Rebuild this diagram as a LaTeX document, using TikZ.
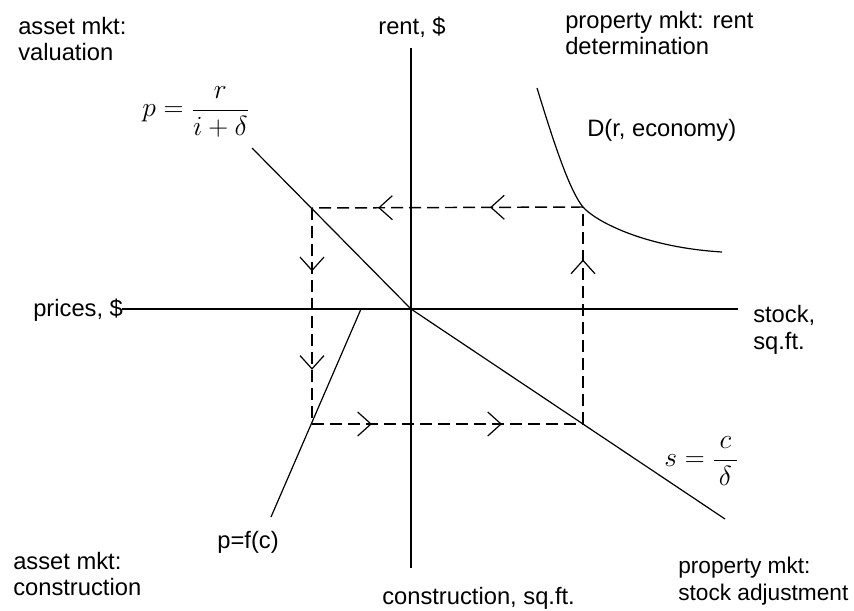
\documentclass[tikz,border=0pt]{standalone}
\usepackage{fontspec}
\setmainfont{Liberation Sans}
\usetikzlibrary{arrows.meta,decorations.markings}
\tikzset{
  axisline/.style={line width=1.5pt},
  curveline/.style={line width=0.9pt},
  dashline/.style={line width=1.1pt, dash pattern=on 9pt off 4.5pt},
  arrowat/.style={postaction={decorate,decoration={markings,
      mark=at position #1 with {\arrow{Straight Barb[length=10pt,width=18pt,line width=0.9pt]}}}}},
  lbl/.style={font=\fontsize{17.8}{20}\selectfont, inner sep=0pt, align=left},
  mathlbl/.style={font=\fontsize{17.28}{21}\selectfont, inner sep=0pt, scale=1.2, transform shape}
}
\begin{document}
\begin{tikzpicture}[x=0.75pt,y=-0.75pt]
\useasboundingbox (0,0) rectangle (854,611);
% key points
\coordinate (O) at (411,309);
\coordinate (ytop) at (411,48);
\coordinate (ybot) at (411,568);
\coordinate (xleft) at (122,309);
\coordinate (xright) at (738,309);
\coordinate (P1) at (252,148);
\coordinate (S2) at (725,519);
\coordinate (F1) at (361,309);
\coordinate (F2) at (271,517);
\coordinate (TR) at (583,207);
\coordinate (TL) at (312,208);
\coordinate (BL) at (312,424);
\coordinate (BR) at (583,424);
\coordinate (D0) at (537,88);
\coordinate (D1) at (722,252);
% axes
\draw[axisline] (ytop) -- (ybot);
\draw[axisline] (xleft) -- (xright);
% curves
\draw[curveline] (P1) -- (O) -- (S2);
\draw[curveline] (F1) -- (F2);
\draw[curveline] (D0) .. controls (550,130) and (568,189) .. (TR)
                      .. controls (593,219) and (640,247) .. (D1);
% dashed cycle
\draw[dashline, arrowat=0.343, arrowat=0.756] (TR) -- (TL);
\draw[dashline, arrowat=0.293, arrowat=0.749] (TL) -- (BL);
\draw[dashline, arrowat=0.221, arrowat=0.701] (BL) -- (BR);
\draw[dashline, arrowat=0.758] (BR) -- (TR);
% labels
\node[lbl, anchor=west] (av) at (18,39) {asset mkt:\\valuation};
\node[lbl] (rent) at (412,27) {rent, \$};
\node[lbl, anchor=west] (pr) at (565,33) {property mkt: rent\\determination};
\node[lbl, anchor=west] (dr) at (587,130) {D(r, economy)};
\node[lbl, anchor=west] (prices) at (33,310) {prices, \$};
\node[lbl, anchor=west] (stock) at (753,330) {stock,\\sq.ft.};
\node[lbl, anchor=east] (pf) at (279,542) {p=f(c)};
\node[lbl, anchor=west] (ac) at (13,574) {asset mkt:\\construction};
\node[lbl, anchor=west] (cs) at (382,598) {construction, sq.ft.};
\node[lbl, anchor=west, font=\fontsize{17}{20}\selectfont] (ps) at (678,581) {property mkt:\\stock adjustment};
\node[mathlbl, anchor=west] (peq) at (142,112) {$\displaystyle p=\frac{r}{i+\delta}$};
\node[mathlbl, anchor=west] (seq) at (664,461) {$\displaystyle s=\frac{\,c\,}{\,\delta\,}$};
\end{tikzpicture}
\end{document}
